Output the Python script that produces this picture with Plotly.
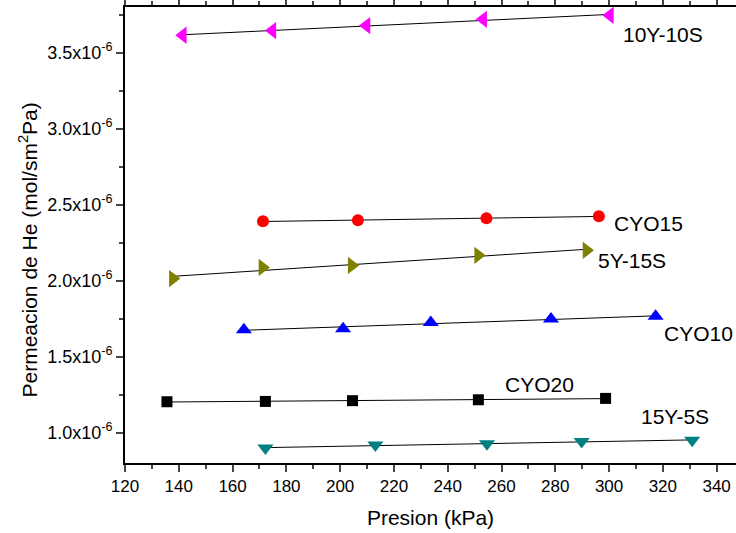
import numpy as np
import plotly.graph_objects as go

# Data (Presion kPa, Permeacion mol/sm2Pa in units of 1e-6)
x_10y10s = [141.5, 174.8, 209.8, 253.2, 300.3]
y_10y10s = [3.614, 3.645, 3.678, 3.719, 3.745]

x_cyo15 = [171.3, 206.6, 254.4, 296.2]
y_cyo15 = [2.390, 2.397, 2.410, 2.423]

x_5y15s = [137.8, 171.1, 204.3, 251.3, 291.6]
y_5y15s = [2.013, 2.087, 2.100, 2.166, 2.199]

x_cyo10 = [164.2, 201.1, 233.7, 278.4, 317.3]
y_cyo10 = [1.677, 1.684, 1.725, 1.747, 1.765]

x_cyo20 = [135.6, 172.2, 204.6, 251.4, 298.7]
y_cyo20 = [1.203, 1.205, 1.210, 1.216, 1.225]

x_15y5s = [172.2, 213.1, 254.6, 289.8, 330.9]
y_15y5s = [0.898, 0.918, 0.927, 0.942, 0.949]

y_tickvals = [1.0, 1.5, 2.0, 2.5, 3.0, 3.5]
y_ticktext = ["1.0x10<sup>-6</sup>", "1.5x10<sup>-6</sup>", "2.0x10<sup>-6</sup>",
              "2.5x10<sup>-6</sup>", "3.0x10<sup>-6</sup>", "3.5x10<sup>-6</sup>"]
x_tickvals = [120, 140, 160, 180, 200, 220, 240, 260, 280, 300, 320, 340]

series = [
    ("10Y-10S", x_10y10s, y_10y10s, "triangle-left", "#FF00FF", 15),
    ("CYO15", x_cyo15, y_cyo15, "circle", "#FF0000", 12),
    ("5Y-15S", x_5y15s, y_5y15s, "triangle-right", "#808000", 15),
    ("CYO10", x_cyo10, y_cyo10, "triangle-up", "#0000FF", 14),
    ("CYO20", x_cyo20, y_cyo20, "square", "#000000", 11),
    ("15Y-5S", x_15y5s, y_15y5s, "triangle-down", "#008080", 14),
]

labels = [
    ("10Y-10S", 320.0, 3.620),
    ("CYO15", 314.8, 2.376),
    ("5Y-15S", 308.5, 2.133),
    ("CYO10", 333.1, 1.654),
    ("CYO20", 274.3, 1.318),
    ("15Y-5S", 324.5, 1.107),
]

fig = go.Figure()
for name, xs, ys, sym, col, sz in series:
    xs = np.array(xs)
    ys = np.array(ys) * 1e-6
    m, b = np.polyfit(xs, ys, 1)
    xf = np.array([xs.min(), xs.max()])
    fig.add_trace(go.Scatter(x=xf, y=m * xf + b, mode="lines",
                             line=dict(color="black", width=1), showlegend=False,
                             hoverinfo="skip"))
    fig.add_trace(go.Scatter(x=xs, y=ys, mode="markers", name=name,
                             marker=dict(symbol=sym, color=col, size=sz, line=dict(width=0)),
                             showlegend=False))

for text, lx, ly in labels:
    fig.add_annotation(x=lx, y=ly * 1e-6, text=text, showarrow=False,
                       font=dict(size=21, color="black", family="Liberation Sans, Arial"))

# y-axis title as rotated annotation (placed slightly below the plot centre, as in the reference)
fig.add_annotation(xref="paper", yref="paper", x=-0.158, y=0.467,
                   text="Permeacion de He (mol/sm<sup>2</sup>Pa)", textangle=-90,
                   showarrow=False, xanchor="center", yanchor="middle",
                   font=dict(size=21, color="black", family="Liberation Sans, Arial"))

fig.update_layout(
    width=736, height=533,
    margin=dict(l=125, r=0, t=7, b=70, autoexpand=False),
    paper_bgcolor="white", plot_bgcolor="white",
    font=dict(family="Liberation Sans, Arial", color="black"),
    showlegend=False,
)
fig.update_xaxes(
    range=[120, 347.2], tickvals=x_tickvals, ticks="outside", ticklen=7, tickwidth=1.5,
    minor=dict(ticks="outside", ticklen=4, tickwidth=1.5, dtick=10, tick0=120),
    showline=True, linecolor="black", linewidth=2, mirror="allticks",
    showgrid=False, zeroline=False, tickfont=dict(size=17), automargin=False,
    title=dict(text="Presion (kPa)", font=dict(size=21)),
)
fig.update_yaxes(
    range=[0.8e-6, 3.8e-6], tickvals=[v * 1e-6 for v in y_tickvals], ticktext=y_ticktext,
    ticks="outside", ticklen=7, tickwidth=1.5,
    minor=dict(ticks="outside", ticklen=4, tickwidth=1.5, dtick=0.25e-6, tick0=0),
    showline=True, linecolor="black", linewidth=2, mirror=False,
    showgrid=False, zeroline=False, tickfont=dict(size=18), automargin=False,
)

fig.write_html("out.html", config={"displayModeBar": False},
               post_script="document.body.style.margin='0';document.body.style.overflow='hidden';")
